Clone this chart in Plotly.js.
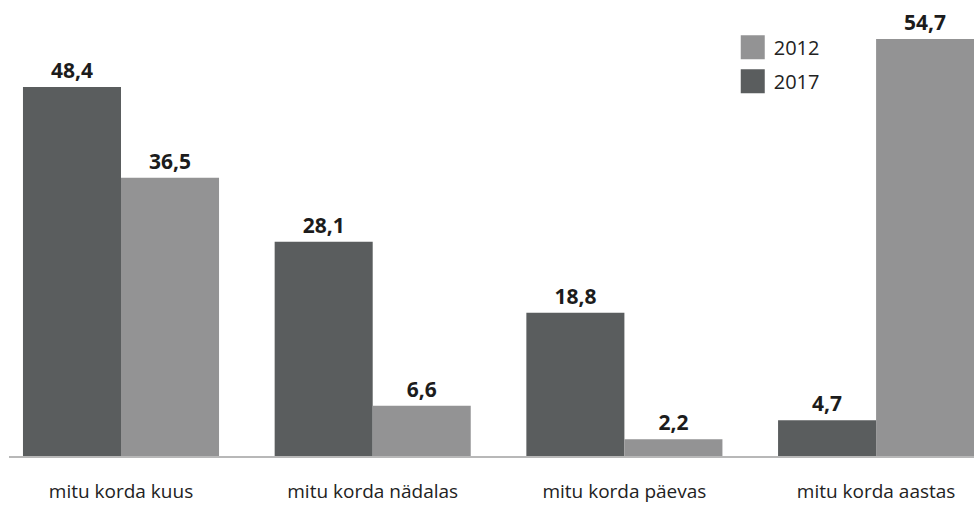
<!DOCTYPE html>
<html>
<head>
<meta charset="utf-8">
<script src="https://cdn.plot.ly/plotly-3.0.1.min.js"></script>
<style>html,body{margin:0;padding:0;background:#fff;}#chart{width:974px;height:506px;}</style>
</head>
<body>
<div id="chart"></div>
<script>
const categories = ["mitu korda kuus", "mitu korda nädalas", "mitu korda päevas", "mitu korda aastas"];
const values2017 = [48.4, 28.1, 18.8, 4.7];
const values2012 = [36.5, 6.6, 2.2, 54.7];
const seriesNames = ["2017", "2012"];

const fontFam = "'Open Sans', Lato, sans-serif";
const textFont = {family: fontFam, size: 21, color: "#1c1c1c", weight: "bold"};

const traces = [
  {
    type: "bar", name: seriesNames[0], x: categories, y: values2017,
    marker: {color: "#5a5d5e"}, legendgroup: "a", legendrank: 2,
    texttemplate: "<b>%{y:.1f}</b>", textposition: "outside", cliponaxis: false,
    textfont: textFont, hoverinfo: "x+y"
  },
  {
    type: "bar", name: seriesNames[1], x: categories, y: values2012,
    marker: {color: "#939394"}, legendgroup: "b", legendrank: 1,
    texttemplate: "<b>%{y:.1f}</b>", textposition: "outside", cliponaxis: false,
    textfont: textFont, hoverinfo: "x+y"
  }
];

const layout = {
  width: 974, height: 506,
  margin: {l: 9, r: 0, t: 10, b: 50},
  paper_bgcolor: "#fff", plot_bgcolor: "#fff",
  separators: ", ",
  barmode: "group", bargap: 0.221, bargroupgap: 0,
  font: {family: fontFam, size: 19, color: "#222"},
  xaxis: {
    type: "category", range: [-0.445, 3.389],
    showline: true, linecolor: "#b8b8b8", linewidth: 2,
    ticks: "", showgrid: false, zeroline: false,
    tickfont: {family: fontFam, size: 19, color: "#222"},
    ticklabelstandoff: 17, fixedrange: true
  },
  yaxis: {
    range: [0, 58.5], visible: false, showgrid: false, zeroline: false, fixedrange: true
  },
  showlegend: true,
  legend: {
    x: 0.75, y: 0.960, xanchor: "left", yanchor: "top",
    traceorder: "grouped", tracegroupgap: 5,
    font: {family: fontFam, size: 20, color: "#222"},
    bgcolor: "rgba(0,0,0,0)"
  }
};

Plotly.newPlot("chart", traces, layout, {displayModeBar: false, staticPlot: true}).then(function(gd){
  gd.querySelectorAll(".legend .legendpoints path").forEach(function(p){
    p.setAttribute("d", "M12,12H-12V-12H12Z");
  });
  gd.querySelectorAll(".legend .legendtext").forEach(function(t){
    t.setAttribute("x", "41");
  });
});
</script>
</body>
</html>
